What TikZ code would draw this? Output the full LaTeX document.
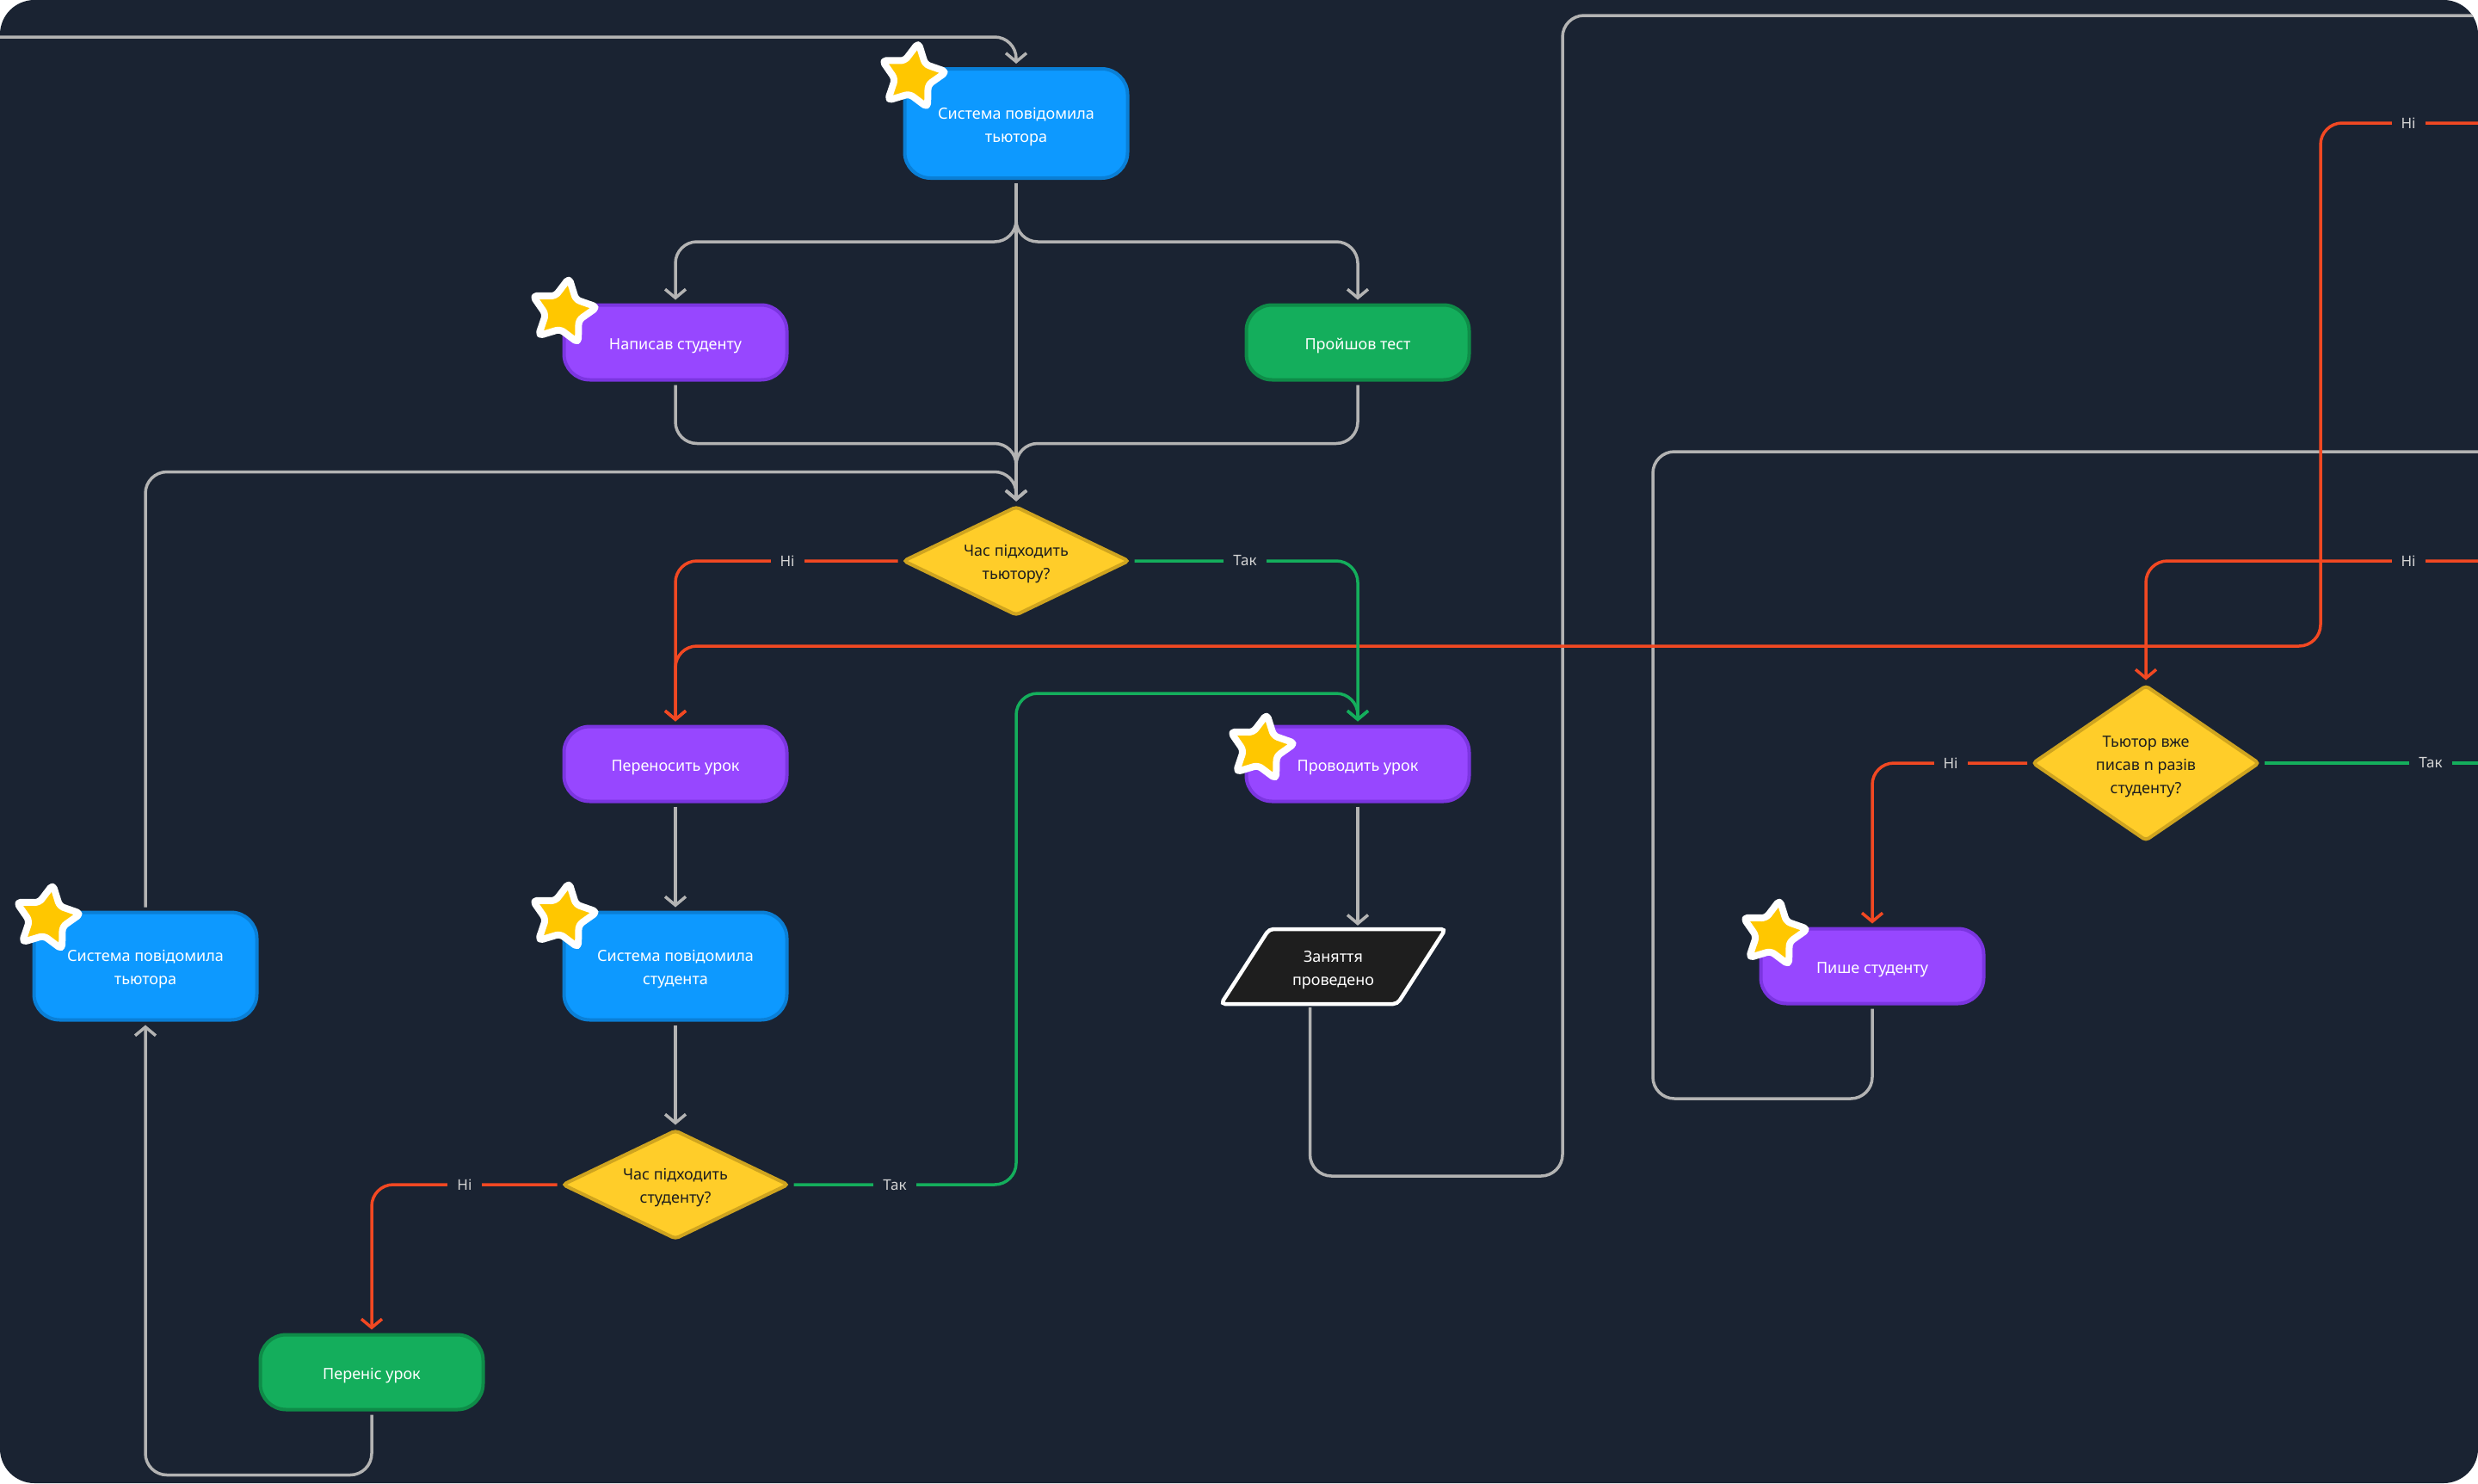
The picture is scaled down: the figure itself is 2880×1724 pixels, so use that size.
\documentclass[tikz,border=0pt]{standalone}
\usepackage{fontspec}
\setmainfont{Noto Sans}
\usetikzlibrary{shapes.geometric,arrows.meta,calc}
\definecolor{bg}{HTML}{1A2332}
\definecolor{cblue}{HTML}{0D99FF}
\definecolor{cbluedk}{HTML}{0A7FD6}
\definecolor{cpurple}{HTML}{9747FF}
\definecolor{cpurpledk}{HTML}{7B35E0}
\definecolor{cgreen}{HTML}{14AE5C}
\definecolor{cgreendk}{HTML}{0E8C48}
\definecolor{cyellow}{HTML}{FFCD29}
\definecolor{cyellowdk}{HTML}{CFA41F}
\definecolor{cgray}{HTML}{B3B3B3}
\definecolor{cred}{HTML}{F24822}
\definecolor{clabel}{HTML}{D4D4D4}
\definecolor{cstar}{HTML}{FFC700}
\definecolor{cdark}{HTML}{1E1E1E}
\newcommand{\lowstrut}{\rule{0pt}{21pt}}
\tikzset{
  lowtext/.style={execute at begin node={\lowstrut}},
  box/.style={rectangle, rounded corners=30pt, line width=4pt, text=white, align=center,
    inner sep=0pt, minimum width=259pt, minimum height=87pt, lowtext},
  bluebox/.style={box, fill=cblue, draw=cbluedk, minimum height=125pt},
  purplebox/.style={box, fill=cpurple, draw=cpurpledk},
  greenbox/.style={box, fill=cgreen, draw=cgreendk},
  dia/.style={diamond, aspect=2, fill=cyellow, draw=cyellowdk, line width=4pt, inner sep=0pt,
    text=cdark, align=center, rounded corners=4pt, minimum width=263pt, minimum height=127pt, lowtext},
  gl/.style={draw=cgray, line width=3.5pt, rounded corners=25pt},
  rl/.style={draw=cred, line width=3.5pt, rounded corners=25pt},
  gr/.style={draw=cgreen, line width=3.5pt, rounded corners=25pt},
  arr/.style={-{Straight Barb[length=10pt,width=24pt]}, shorten >=4pt, shorten <=4pt},
  lab/.style={fill=bg, text=clabel, inner xsep=11pt, inner ysep=3pt, font=\fontsize{17}{20}\selectfont},
  starsty/.style={star, star points=5, star point ratio=1.95, minimum size=80pt, inner sep=0pt,
    fill=cstar, draw=white, line width=8pt, line join=round, rounded corners=5pt, rotate=-10},
}
\begin{document}
\begin{tikzpicture}[x=1pt,y=-1pt, font=\fontsize{18}{27}\selectfont]
\useasboundingbox (0,0) rectangle (2880,1724);
\fill[white] (0,0) rectangle (2880,1724);
\fill[bg, rounded corners=40pt] (0,0) rectangle (2880,1724);
\begin{scope}
\clip[rounded corners=40pt] (0,0) rectangle (2880,1724);

% nodes
\node[bluebox, minimum height=127pt] (n1) at (1181,143.5) {\lowstrut Система повідомила\\тьютора};
\node[purplebox] (n2) at (785,398) {Написав студенту};
\node[greenbox] (n3) at (1578,398) {Пройшов тест};
\node[dia] (d1) at (1181,652) {\lowstrut Час підходить\\тьютору?};
\node[purplebox] (n4) at (785,888) {Переносить урок};
\node[purplebox] (n5) at (1578,888) {Проводить урок};
\node[bluebox] (n6) at (785,1123) {\lowstrut Система повідомила\\студента};
\node[bluebox] (n7) at (169,1123) {\lowstrut Система повідомила\\тьютора};
\node[dia] (d2) at (785,1377) {\lowstrut Час підходить\\студенту?};
\node[greenbox] (n8) at (432,1595) {Переніс урок};
\node[purplebox] (n9) at (2176,1123) {Пише студенту};
\node[dia, aspect=1.46, minimum width=264pt, minimum height=181pt] (d3) at (2494,887) {\lowstrut Тьютор вже\\писав n разів\\студенту?};
\fill[cdark, draw=white, line width=4.5pt, rounded corners=5pt]
  (1475,1080) -- (1680,1080) -- (1624,1167) -- (1419,1167) -- cycle;
\node[text=white, align=center, inner sep=0pt, minimum width=205pt, minimum height=87pt] (p) at (1549.5,1123.5) {\lowstrut Заняття\\проведено};

% coordinates at the edges
\coordinate (e1) at (-10,43);
\coordinate (e2) at (2890,18);
\coordinate (e3) at (2890,525);
\coordinate (e4) at (2890,887);
\coordinate (e5) at (2890,143);
\coordinate (e6) at (2890,652);
\coordinate (t2) at (1181,806);
\coordinate (o1) at (1816,1367);
\coordinate (o2) at (1921,1277);
\coordinate (r1) at (2697,751);

% gray connectors
\draw[gl, arr] (e1) -| (n1.north);
\draw[gl, arr] (n1.south) -- ++(0,72) -| (n2.north);
\draw[gl, arr] (n1.south) -- ++(0,72) -| (n3.north);
\draw[gl, arr] (n1.south) -- (d1.north);
\draw[gl, arr] (n2.south) -- ++(0,72) -| (d1.north);
\draw[gl, arr] (n3.south) -- ++(0,72) -| (d1.north);
\draw[gl, arr] (n7.north) -- ++(0,-510) -| (d1.north);
\draw[gl, arr] (n4.south) -- (n6.north);
\draw[gl, arr] (n6.south) -- (d2.north);
\draw[gl, arr] (n8.south) -- ++(0,74) -| (n7.south);
\draw[gl, arr] (n5.south) -- (n5.south |- p.north);
\draw[gl, shorten <=4pt] ($(p.south)+(-27,0)$) |- (o1) |- (e2);
\draw[gl, shorten <=4pt] (n9.south) |- (o2) |- (e3);

% red connectors
\draw[rl, arr] (e5) -| (r1) -| (n4.north);
\draw[rl, arr] (e6) -| (d3.north);
\draw[rl, arr] (d1.west) -| (n4.north);
\draw[rl, arr] (d2.west) -| (n8.north);
\draw[rl, arr] (d3.west) -| (n9.north);

% green connectors
\draw[gr, arr] (d1.east) -| (n5.north);
\draw[gr, arr] (d2.east) -| (t2) -| (n5.north);
\draw[gr, shorten <=4pt] (d3.east) -- (e4);

% labels
\node[lab] (l1) at (915,652) {Ні};
\node[lab] (l2) at (1447,652) {Так};
\node[lab] (l3) at (540,1377) {Ні};
\node[lab] (l4) at (1040,1377) {Так};
\node[lab] (l5) at (2267,887) {Ні};
\node[lab] (l6) at (2825,887) {Так};
\node[lab] (l7) at (2799,143) {Ні};
\node[lab] (l8) at (2799,652) {Ні};

% stars
\node[starsty] (s1) at ($(n1.north west)+(11,11)$) {};
\node[starsty] (s2) at ($(n2.north west)+(1,10)$) {};
\node[starsty] (s3) at ($(n5.north west)+(19,27)$) {};
\node[starsty] (s4) at ($(n7.north west)+(17,9)$) {};
\node[starsty] (s5) at ($(n6.north west)+(1,7)$) {};
\node[starsty] (s6) at ($(n9.north west)+(17,8)$) {};
\end{scope}
\end{tikzpicture}
\end{document}
